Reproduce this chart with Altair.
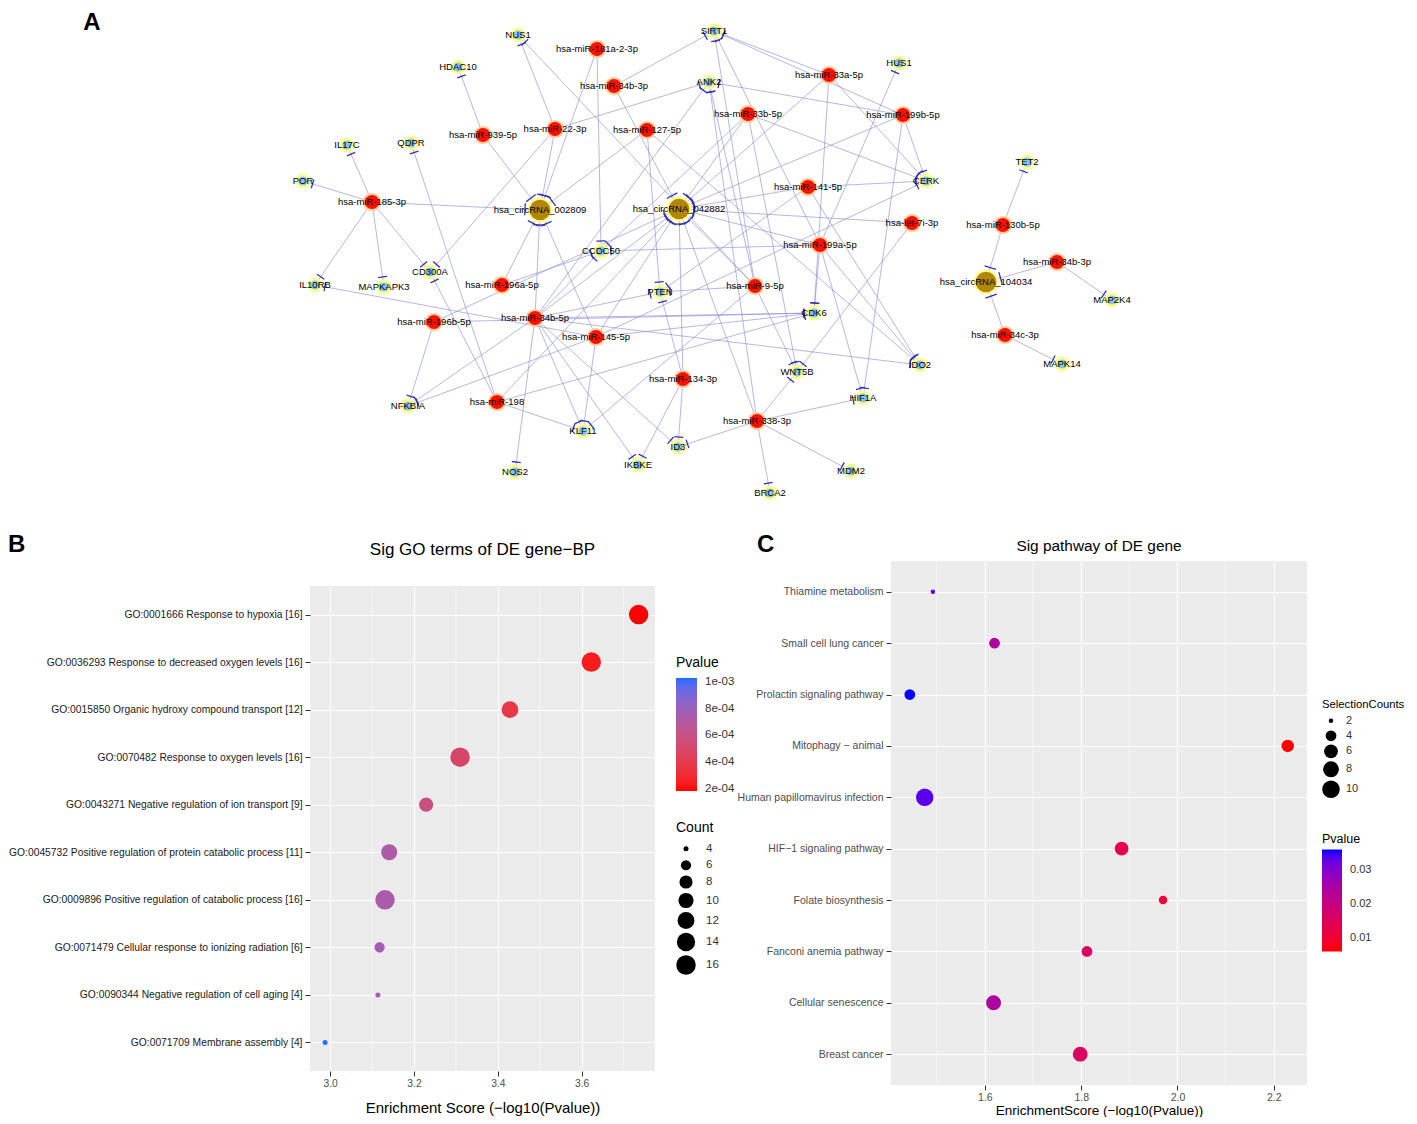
import math
import altair as alt
import pandas as pd

# ---------------- Panel A : ceRNA network ----------------
mirna_ids = ["hsa-miR-181a-2-3p", "hsa-miR-34b-3p", "hsa-miR-22-3p", "hsa-miR-127-5p",
             "hsa-miR-939-5p", "hsa-miR-185-3p", "hsa-miR-33a-5p", "hsa-miR-33b-5p",
             "hsa-miR-199b-5p", "hsa-miR-141-5p", "hsa-let-7i-3p", "hsa-miR-199a-5p",
             "hsa-miR-130b-5p", "hsa-miR-34b-3p#2", "hsa-miR-34c-3p", "hsa-miR-196a-5p",
             "hsa-miR-196b-5p", "hsa-miR-34b-5p", "hsa-miR-145-5p", "hsa-miR-9-5p",
             "hsa-miR-134-3p", "hsa-miR-198", "hsa-miR-338-3p"]
mirna_x = [597, 614, 555, 647, 483, 372, 829, 748, 903, 808, 912, 820,
           1003, 1057, 1005, 502, 434, 535, 596, 755, 683, 497, 757]
mirna_y = [49, 86, 129, 130, 135, 202, 75, 114, 115, 187, 223, 245,
           225, 262, 335, 285, 322, 318, 337, 286, 379, 402, 421]

circ_ids = ["hsa_circRNA_002809", "hsa_circRNA_042882", "hsa_circRNA_104034"]
circ_x = [540, 679, 986]
circ_y = [210, 209, 282]

gene_ids = ["NUS1", "SIRT1", "HDAC10", "ANK2", "HUS1", "IL17C", "QDPR", "POR", "CERK",
            "TET2", "CCDC50", "IL10RB", "MAPKAPK3", "CD300A", "PTEN", "CDK6", "MAP2K4",
            "IDO2", "MAPK14", "WNT5B", "HIF1A", "NFKBIA", "KLF11", "ID3", "IKBKE",
            "NOS2", "MDM2", "BRCA2"]
gene_x = [518, 714, 458, 709, 899, 347, 411, 303, 926, 1027, 601, 315, 384, 430, 660,
          814, 1112, 920, 1062, 797, 863, 408, 583, 678, 638, 515, 851, 770]
gene_y = [35, 31, 67, 82, 63, 145, 143, 181, 181, 162, 251, 285, 287, 272, 292,
          313, 300, 365, 364, 372, 398, 406, 431, 447, 465, 472, 471, 493]

edges = [
    # circRNA targets
    ("hsa-miR-939-5p", "hsa_circRNA_002809"), ("hsa-miR-185-3p", "hsa_circRNA_002809"),
    ("hsa-miR-22-3p", "hsa_circRNA_002809"), ("hsa-miR-127-5p", "hsa_circRNA_002809"),
    ("hsa-miR-181a-2-3p", "hsa_circRNA_002809"), ("hsa-miR-196a-5p", "hsa_circRNA_002809"),
    ("hsa-miR-34b-5p", "hsa_circRNA_002809"), ("hsa-miR-145-5p", "hsa_circRNA_002809"),
    ("hsa-miR-34b-3p", "hsa_circRNA_042882"), ("hsa-miR-33b-5p", "hsa_circRNA_042882"),
    ("hsa-miR-33a-5p", "hsa_circRNA_042882"), ("hsa-miR-199b-5p", "hsa_circRNA_042882"),
    ("hsa-miR-141-5p", "hsa_circRNA_042882"), ("hsa-let-7i-3p", "hsa_circRNA_042882"),
    ("hsa-miR-199a-5p", "hsa_circRNA_042882"), ("hsa-miR-9-5p", "hsa_circRNA_042882"),
    ("hsa-miR-134-3p", "hsa_circRNA_042882"), ("hsa-miR-145-5p", "hsa_circRNA_042882"),
    ("hsa-miR-34b-5p", "hsa_circRNA_042882"), ("hsa-miR-196b-5p", "hsa_circRNA_042882"),
    ("hsa-miR-338-3p", "hsa_circRNA_042882"), ("hsa-miR-198", "hsa_circRNA_042882"),
    ("hsa-miR-130b-5p", "hsa_circRNA_104034"), ("hsa-miR-34b-3p#2", "hsa_circRNA_104034"),
    ("hsa-miR-34c-3p", "hsa_circRNA_104034"),
    # gene targets
    ("hsa-miR-22-3p", "NUS1"), ("hsa-miR-9-5p", "NUS1"),
    ("hsa-miR-34b-3p", "SIRT1"), ("hsa-miR-33a-5p", "SIRT1"), ("hsa-miR-199b-5p", "SIRT1"),
    ("hsa-miR-9-5p", "SIRT1"), ("hsa-miR-199a-5p", "SIRT1"),
    ("hsa-miR-939-5p", "HDAC10"),
    ("hsa-miR-22-3p", "ANK2"), ("hsa-miR-199b-5p", "ANK2"), ("hsa-miR-34b-5p", "ANK2"),
    ("hsa-miR-9-5p", "ANK2"), ("hsa-miR-338-3p", "ANK2"),
    ("hsa-miR-199a-5p", "HUS1"),
    ("hsa-miR-185-3p", "IL17C"), ("hsa-miR-198", "QDPR"), ("hsa-miR-185-3p", "POR"),
    ("hsa-miR-33a-5p", "CERK"), ("hsa-miR-33b-5p", "CERK"), ("hsa-miR-199b-5p", "CERK"),
    ("hsa-miR-141-5p", "CERK"), ("hsa-miR-145-5p", "CERK"),
    ("hsa-miR-130b-5p", "TET2"),
    ("hsa-miR-181a-2-3p", "CCDC50"), ("hsa-miR-33b-5p", "CCDC50"), ("hsa-miR-34b-5p", "CCDC50"),
    ("hsa-miR-196a-5p", "CCDC50"), ("hsa-miR-199a-5p", "CCDC50"),
    ("hsa-miR-185-3p", "IL10RB"), ("hsa-miR-145-5p", "IL10RB"),
    ("hsa-miR-185-3p", "MAPKAPK3"),
    ("hsa-miR-185-3p", "CD300A"), ("hsa-miR-22-3p", "CD300A"), ("hsa-miR-198", "CD300A"),
    ("hsa-miR-9-5p", "PTEN"), ("hsa-miR-34b-5p", "PTEN"), ("hsa-miR-134-3p", "PTEN"),
    ("hsa-miR-141-5p", "PTEN"), ("hsa-miR-127-5p", "PTEN"),
    ("hsa-miR-199a-5p", "CDK6"), ("hsa-miR-34b-5p", "CDK6"), ("hsa-miR-145-5p", "CDK6"),
    ("hsa-miR-198", "CDK6"), ("hsa-miR-33a-5p", "CDK6"), ("hsa-miR-196b-5p", "CDK6"),
    ("hsa-miR-34b-3p#2", "MAP2K4"),
    ("hsa-miR-34b-5p", "IDO2"), ("hsa-miR-199a-5p", "IDO2"), ("hsa-miR-141-5p", "IDO2"),
    ("hsa-miR-127-5p", "IDO2"),
    ("hsa-miR-34c-3p", "MAPK14"),
    ("hsa-miR-338-3p", "WNT5B"), ("hsa-miR-9-5p", "WNT5B"), ("hsa-miR-33b-5p", "WNT5B"),
    ("hsa-let-7i-3p", "WNT5B"),
    ("hsa-miR-338-3p", "HIF1A"), ("hsa-miR-199a-5p", "HIF1A"), ("hsa-miR-199b-5p", "HIF1A"),
    ("hsa-miR-196b-5p", "NFKBIA"), ("hsa-miR-34b-5p", "NFKBIA"), ("hsa-miR-145-5p", "NFKBIA"),
    ("hsa-miR-198", "KLF11"), ("hsa-miR-34b-5p", "KLF11"), ("hsa-miR-145-5p", "KLF11"),
    ("hsa-miR-9-5p", "KLF11"),
    ("hsa-miR-338-3p", "ID3"), ("hsa-miR-134-3p", "ID3"), ("hsa-miR-34b-5p", "ID3"),
    ("hsa-miR-34b-5p", "IKBKE"), ("hsa-miR-134-3p", "IKBKE"),
    ("hsa-miR-34b-5p", "NOS2"), ("hsa-miR-338-3p", "MDM2"), ("hsa-miR-338-3p", "BRCA2"),
]

panel_letters = ["A", "B", "C"]
panel_titles = ["Sig GO terms of DE gene−BP", "Sig pathway of DE gene"]

rows = []
for ids, xs_, ys_, kind in [(mirna_ids, mirna_x, mirna_y, "miRNA"),
                            (circ_ids, circ_x, circ_y, "circRNA"),
                            (gene_ids, gene_x, gene_y, "gene")]:
    for i, n in enumerate(ids):
        rows.append(dict(id=n, kind=kind, x=xs_[i], y=ys_[i]))
nodes = pd.DataFrame(rows)
nodes["label"] = nodes["id"].str.split("#").str[0]
pos = {r.id: (r.x, r.y) for r in nodes.itertuples()}
kind_of = dict(zip(nodes["id"], nodes["kind"]))

erows, trows = [], []
for s, t in edges:
    sx, sy = pos[s]
    tx, ty = pos[t]
    erows.append(dict(x1=sx, y1=sy, x2=tx, y2=ty))
    dx, dy = sx - tx, sy - ty
    L = math.hypot(dx, dy)
    ux, uy = dx / L, dy / L
    r = 15 if kind_of[t] == "circRNA" else 10
    h = 6 if kind_of[t] == "circRNA" else 4.5
    cx, cy = tx + ux * r, ty + uy * r
    trows.append(dict(x1=cx - uy * h, y1=cy + ux * h, x2=cx + uy * h, y2=cy - ux * h))
edf = pd.DataFrame(erows)
tdf = pd.DataFrame(trows)

# the network's plot area starts where panel B's plot area starts (x=310 on the page)
xs = alt.Scale(domain=[310, 1408], nice=False, zero=False)
ys = alt.Scale(domain=[8, 524], nice=False, zero=False, reverse=True)


def pxy(xf, yf):
    return dict(x=alt.X(xf, scale=xs, axis=None), y=alt.Y(yf, scale=ys, axis=None))


edge_layer = alt.Chart(edf).mark_rule(color="#8C8CD4", strokeWidth=0.8, opacity=0.8).encode(
    **pxy("x1:Q", "y1:Q"), x2="x2:Q", y2="y2:Q")
tbar_layer = alt.Chart(tdf).mark_rule(color="#3434A8", strokeWidth=1.3).encode(
    **pxy("x1:Q", "y1:Q"), x2="x2:Q", y2="y2:Q")

genes_df = nodes[nodes["kind"] == "gene"]
mir_df = nodes[nodes["kind"] == "miRNA"]
circ_df = nodes[nodes["kind"] == "circRNA"]

gene_halo = alt.Chart(genes_df).mark_circle(size=230, color="#FFFF8A", opacity=0.95).encode(**pxy("x:Q", "y:Q"))
gene_core = alt.Chart(genes_df).mark_circle(size=85, color="#86C3EE", opacity=1).encode(**pxy("x:Q", "y:Q"))
mir_halo = alt.Chart(mir_df).mark_circle(size=330, color="#FFC890", opacity=0.95).encode(**pxy("x:Q", "y:Q"))
mir_core = alt.Chart(mir_df).mark_circle(size=200, color="#FF1000", opacity=1).encode(**pxy("x:Q", "y:Q"))
circ_halo = alt.Chart(circ_df).mark_circle(size=620, color="#FFFF8A", opacity=0.95).encode(**pxy("x:Q", "y:Q"))
circ_core = alt.Chart(circ_df).mark_circle(size=430, color="#B3850B", opacity=1).encode(**pxy("x:Q", "y:Q"))
labels = alt.Chart(nodes).mark_text(fontSize=9.5, color="black").encode(**pxy("x:Q", "y:Q"), text="label:N")
letterA = alt.Chart(pd.DataFrame({"t": [panel_letters[0]]})).mark_text(
    fontSize=24, fontWeight="bold", color="black", align="center", baseline="middle").encode(
    x=alt.value(-218), y=alt.value(15), text="t:N")

network = alt.layer(edge_layer, tbar_layer, gene_halo, circ_halo, mir_halo,
                    gene_core, circ_core, mir_core, labels, letterA).properties(width=1098, height=516)

# ---------------- Panel B : GO terms ----------------
go_terms = [
    "GO:0001666 Response to hypoxia [16]",
    "GO:0036293 Response to decreased oxygen levels [16]",
    "GO:0015850 Organic hydroxy compound transport [12]",
    "GO:0070482 Response to oxygen levels [16]",
    "GO:0043271 Negative regulation of ion transport [9]",
    "GO:0045732 Positive regulation of protein catabolic process [11]",
    "GO:0009896 Positive regulation of catabolic process [16]",
    "GO:0071479 Cellular response to ionizing radiation [6]",
    "GO:0090344 Negative regulation of cell aging [4]",
    "GO:0071709 Membrane assembly [4]",
]
go_score = [3.736, 3.623, 3.429, 3.310, 3.229, 3.141, 3.131, 3.118, 3.114, 2.988]
go_pvalue = [1.84e-4, 2.38e-4, 3.72e-4, 4.90e-4, 5.90e-4, 7.23e-4, 7.40e-4, 7.62e-4, 7.69e-4, 1.028e-3]
go_count = [16, 16, 12, 16, 9, 11, 16, 6, 4, 4]
go_xticks = [3.0, 3.2, 3.4, 3.6]
go_minor = [3.1, 3.3, 3.5, 3.7]
go_pv_ticks = [0.0002, 0.0004, 0.0006, 0.0008, 0.001]
go_count_ticks = [4, 6, 8, 10, 12, 14, 16]

go_df = pd.DataFrame({"term": go_terms, "score": go_score, "pvalue": go_pvalue, "count": go_count})

WB, HB = 345, 485
xB = alt.Scale(domain=[2.952, 3.775], nice=False, zero=False)
axBx = alt.Axis(values=go_xticks, format=".1f", title="Enrichment Score (−log10(Pvalue))",
                grid=True, gridColor="white", gridWidth=1.1, domain=False, tickColor="#333333",
                tickSize=5, labelFontSize=10.3, labelColor="#4D4D4D", labelPadding=2,
                titleFontSize=15, titleFontWeight="normal", titleColor="black", titlePadding=12)
axBy = alt.Axis(title=None, grid=True, gridColor="white", gridWidth=1.1, domain=False,
                tickColor="#333333", tickSize=5, labelPadding=3, labelFontSize=10.3,
                labelColor="#1A1A1A", labelLimit=600)

minorB = alt.Chart(pd.DataFrame({"v": go_minor})).mark_rule(color="white", strokeWidth=0.55).encode(
    x=alt.X("v:Q", scale=xB, axis=axBx))
pointsB = alt.Chart(go_df).mark_circle(opacity=1, color="black").encode(
    x=alt.X("score:Q", scale=xB, axis=axBx),
    y=alt.Y("term:N", sort=go_terms, scale=alt.Scale(type="point", padding=0.6), axis=axBy),
    color=alt.Color("pvalue:Q",
                    scale=alt.Scale(domain=[min(go_pvalue), max(go_pvalue)],
                                    range=["#FF0000", "#1E6EFF"], interpolate="lab"),
                    legend=alt.Legend(title="Pvalue", orient="none", legendX=366, legendY=70,
                                      direction="vertical", gradientLength=113, gradientThickness=21,
                                      gradientStrokeWidth=0, values=go_pv_ticks,
                                      labelExpr="replace(format(datum.value, '.0e'), 'e-', 'e-0')",
                                      labelFontSize=11.5, labelColor="#333333", labelOffset=8,
                                      titleFontSize=14, titleFontWeight="normal", titleColor="black",
                                      titlePadding=8, padding=0)),
    size=alt.Size("count:Q",
                  scale=alt.Scale(type="sqrt", domain=[4, 16], range=[25, 380], zero=False),
                  legend=alt.Legend(title="Count", orient="none", legendX=366, legendY=235,
                                    direction="vertical", values=go_count_ticks, symbolType="circle",
                                    symbolFillColor="black", symbolStrokeWidth=0, symbolOpacity=1,
                                    labelFontSize=11.5, labelColor="#333333", labelOffset=10,
                                    rowPadding=3.5, titleFontSize=14, titleFontWeight="normal",
                                    titleColor="black", titlePadding=8, padding=0)),
)
panelB = alt.layer(minorB, pointsB).properties(
    width=WB, height=HB, view=alt.ViewBackground(fill="#EBEBEB", stroke=None))

headB_letter = alt.Chart(pd.DataFrame({"t": [panel_letters[1]]})).mark_text(
    fontSize=24, fontWeight="bold", color="black", align="left", baseline="middle").encode(
    x=alt.value(-302), y=alt.value(15), text="t:N")
headB_title = alt.Chart(pd.DataFrame({"t": [panel_titles[0]]})).mark_text(
    fontSize=17, color="black", align="center", baseline="middle").encode(
    x=alt.value(WB / 2), y=alt.value(20), text="t:N")
headerB = alt.layer(headB_letter, headB_title).properties(width=WB, height=55)

colB = alt.vconcat(headerB, panelB, spacing=0).resolve_scale(
    color="independent", size="independent").resolve_legend(color="independent", size="independent")

# ---------------- Panel C : pathways ----------------
pw_terms = ["Thiamine metabolism", "Small cell lung cancer", "Prolactin signaling pathway",
            "Mitophagy − animal", "Human papillomavirus infection", "HIF−1 signaling pathway",
            "Folate biosynthesis", "Fanconi anemia pathway", "Cellular senescence", "Breast cancer"]
pw_score = [1.492, 1.620, 1.444, 2.229, 1.475, 1.884, 1.970, 1.812, 1.618, 1.798]
pw_pvalue = [0.0322, 0.0240, 0.0360, 0.0059, 0.0335, 0.0131, 0.0107, 0.0154, 0.0241, 0.0159]
pw_count = [2, 4, 4, 5, 10, 6, 3, 4, 7, 7]
pw_xticks = [1.6, 1.8, 2.0, 2.2]
pw_minor = [1.5, 1.7, 1.9, 2.1]
pw_pv_ticks = [0.01, 0.02, 0.03]
pw_count_ticks = [2, 4, 6, 8, 10]

pw_df = pd.DataFrame({"term": pw_terms, "score": pw_score, "pvalue": pw_pvalue, "count": pw_count})

WC, HC = 416, 524
xC = alt.Scale(domain=[1.405, 2.269], nice=False, zero=False)
axCx = alt.Axis(values=pw_xticks, format=".1f", title="EnrichmentScore (−log10(Pvalue))",
                grid=True, gridColor="white", gridWidth=1.1, domain=False, tickColor="#333333",
                tickSize=5, labelFontSize=10.5, labelColor="#4D4D4D", labelPadding=2,
                titleFontSize=13.5, titleFontWeight="normal", titleColor="black", titlePadding=1)
axCy = alt.Axis(title=None, grid=True, gridColor="white", gridWidth=1.1, domain=False,
                tickColor="#333333", tickSize=5, labelPadding=3, labelFontSize=10.5,
                labelColor="#4D4D4D", labelLimit=600)

minorC = alt.Chart(pd.DataFrame({"v": pw_minor})).mark_rule(color="white", strokeWidth=0.55).encode(
    x=alt.X("v:Q", scale=xC, axis=axCx))
pointsC = alt.Chart(pw_df).mark_circle(opacity=1, color="black").encode(
    x=alt.X("score:Q", scale=xC, axis=axCx),
    y=alt.Y("term:N", sort=pw_terms, scale=alt.Scale(type="point", padding=0.6), axis=axCy),
    color=alt.Color("pvalue:Q",
                    scale=alt.Scale(domain=[min(pw_pvalue), max(pw_pvalue)],
                                    range=["#FF0000", "#0000FF"], interpolate="lab"),
                    legend=alt.Legend(title="Pvalue", orient="none", legendX=431, legendY=272,
                                      direction="vertical", gradientLength=102, gradientThickness=20,
                                      gradientStrokeWidth=0, values=pw_pv_ticks, format=".2f",
                                      labelFontSize=11, labelColor="#333333", labelOffset=8,
                                      titleFontSize=12.5, titleFontWeight="normal", titleColor="black",
                                      titlePadding=4, padding=0)),
    size=alt.Size("count:Q",
                  scale=alt.Scale(type="sqrt", domain=[2, 10], range=[20, 306], zero=False),
                  legend=alt.Legend(title="SelectionCounts", orient="none", legendX=431, legendY=138,
                                    direction="vertical", values=pw_count_ticks, symbolType="circle",
                                    symbolFillColor="black", symbolStrokeWidth=0, symbolOpacity=1,
                                    labelFontSize=11, labelColor="#333333", labelOffset=6,
                                    rowPadding=3, titleFontSize=11.3, titleFontWeight="normal",
                                    titleColor="black", titlePadding=5, padding=0)),
)
panelC = alt.layer(minorC, pointsC).properties(
    width=WC, height=HC, view=alt.ViewBackground(fill="#EBEBEB", stroke=None))

headC_letter = alt.Chart(pd.DataFrame({"t": [panel_letters[2]]})).mark_text(
    fontSize=24, fontWeight="bold", color="black", align="left", baseline="middle").encode(
    x=alt.value(-134), y=alt.value(15), text="t:N")
headC_title = alt.Chart(pd.DataFrame({"t": [panel_titles[1]]})).mark_text(
    fontSize=15.4, color="black", align="center", baseline="middle").encode(
    x=alt.value(WC / 2), y=alt.value(16), text="t:N")
headerC = alt.layer(headC_letter, headC_title).properties(width=WC, height=30)

colC = alt.vconcat(headerC, panelC, spacing=0).resolve_scale(
    color="independent", size="independent").resolve_legend(color="independent", size="independent")

bottom = alt.hconcat(colB, colC, spacing=2).resolve_scale(
    color="independent", size="independent").resolve_legend(color="independent", size="independent")
chart = alt.vconcat(network, bottom, spacing=6).resolve_scale(
    color="independent", size="independent").resolve_legend(
    color="independent", size="independent").properties(padding=0).configure(
    font="Liberation Sans").configure_view(stroke=None)

chart.save("out.html", embed_options={"renderer": "svg", "actions": False})
